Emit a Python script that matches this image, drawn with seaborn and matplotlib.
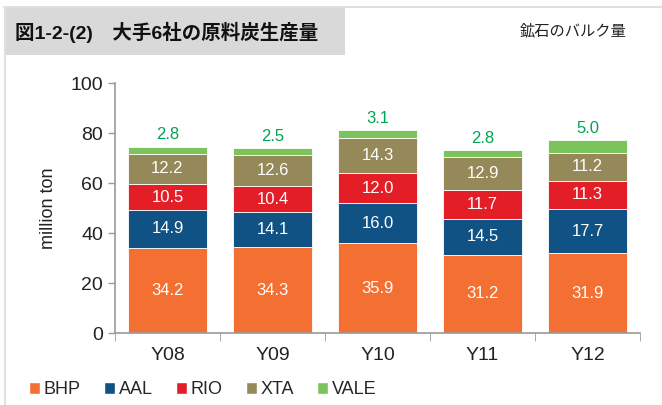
import numpy as np
import pandas as pd
import matplotlib
matplotlib.use("Agg")
import matplotlib.pyplot as plt
import seaborn as sns
from matplotlib.patches import Rectangle
from matplotlib.lines import Line2D

years = ["Y08", "Y09", "Y10", "Y11", "Y12"]
companies = ["BHP", "AAL", "RIO", "XTA", "VALE"]
bhp = [34.2, 34.3, 35.9, 31.2, 31.9]
aal = [14.9, 14.1, 16.0, 14.5, 17.7]
rio = [10.5, 10.4, 12.0, 11.7, 11.3]
xta = [12.2, 12.6, 14.3, 12.9, 11.2]
vale = [2.8, 2.5, 3.1, 2.8, 5.0]
colors = ["#f37032", "#105284", "#e31e27", "#95895a", "#7cc35b"]

sns.set_style("white")
plt.rcParams["font.family"] = ["Liberation Sans", "Noto Sans CJK JP", "DejaVu Sans"]

fig = plt.figure(figsize=(6.62, 4.05), dpi=100)
ax = fig.add_axes([115 / 662, 1 - 333 / 405, 525 / 662, 250 / 405])

series = [bhp, aal, rio, xta, vale]
bottom = np.zeros(len(years))
for name, vals, col in zip(companies, series, colors):
    df = pd.DataFrame({"year": years, "val": vals})
    sns.barplot(data=df, x="year", y="val", color=col, width=0.76,
                bottom=bottom, edgecolor="white", linewidth=0.6,
                saturation=1, ax=ax, label=name)
    cont = ax.containers[-1]
    if name == "VALE":
        ax.bar_label(cont, labels=[f"{v:.1f}" for v in vals], padding=3,
                     color="#00a550", fontsize=12)
    else:
        ax.bar_label(cont, labels=[f"{v:.1f}" for v in vals], label_type="center",
                     color="white", fontsize=12)
    bottom += np.array(vals)

ax.set_ylim(0, 100)
ax.set_xlim(-0.5, 4.5)
ax.set_yticks(range(0, 101, 20))
ax.set_xlabel("")
ax.set_ylabel("million ton", fontsize=13, color="#222222", labelpad=10)
ax.tick_params(axis="y", labelsize=14, colors="#222222", length=5, width=1,
               direction="out", left=True, color="#999999")
ax.tick_params(axis="x", labelsize=14, colors="#222222", length=0, pad=10)
ax.set_xticks(np.arange(-0.5, 5, 1), minor=True)
ax.tick_params(axis="x", which="minor", length=6, bottom=True, color="#999999")
for s in ["top", "right"]:
    ax.spines[s].set_visible(False)
for s in ["left", "bottom"]:
    ax.spines[s].set_color("#999999")
    ax.spines[s].set_linewidth(1.2)
if ax.get_legend():
    ax.get_legend().remove()

# frame and title box
fig.add_artist(Line2D([4 / 662, 1], [1 - 7 / 405] * 2, color="#e0e0e0", lw=1.5))
fig.add_artist(Line2D([5 / 662] * 2, [0, 1 - 7 / 405], color="#e0e0e0", lw=1.5))
fig.add_artist(Rectangle((4 / 662, 1 - 55 / 405), 341 / 662, 48 / 405,
                         transform=fig.transFigure, facecolor="#d9d9d9", edgecolor="none"))
fig.text(15 / 662, 1 - 32 / 405, "図1-2-(2)　大手6社の原料炭生産量", fontsize=14,
         fontweight="bold", va="center", ha="left", color="#111111")
fig.text(520 / 662, 1 - 31 / 405, "鉱石のバルク量", fontsize=11, va="center",
         ha="left", color="#222222")

handles = [Rectangle((0, 0), 1, 1, facecolor=c) for c in colors]
fig.legend(handles, companies, loc="center left", bbox_to_anchor=(22 / 662, 1 - 390 / 405),
           ncol=5, frameon=False, fontsize=13, handlelength=0.6, handleheight=0.6,
           handletextpad=0.2, columnspacing=1.3, borderaxespad=0)

fig.savefig("out.png", dpi=100)
